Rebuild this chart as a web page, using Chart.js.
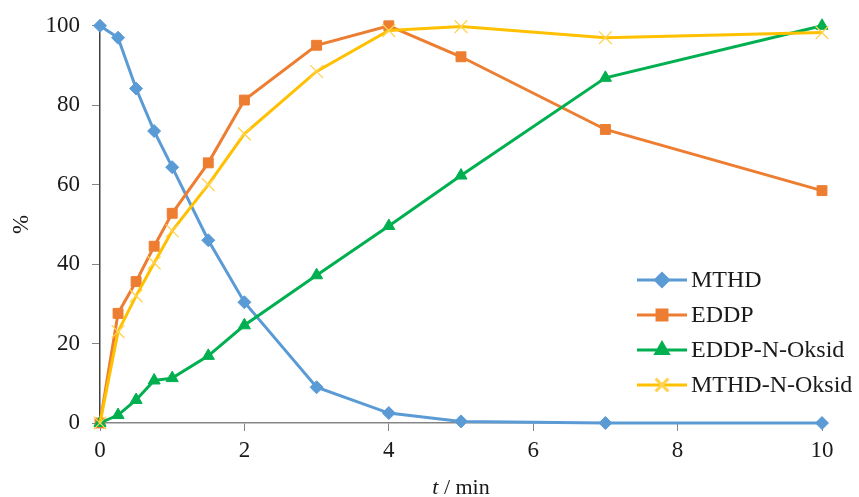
<!DOCTYPE html>
<html>
<head>
<meta charset="utf-8">
<script src="https://cdn.jsdelivr.net/npm/chart.js@4"></script>
<style>
  html, body { margin: 0; padding: 0; background: #fff; }
  #wrap { width: 859px; height: 497px; position: relative; }
</style>
</head>
<body>
<div id="wrap"><canvas id="myChart"></canvas></div>
<script>
// datos
const tiempos = [0, 0.25, 0.5, 0.75, 1, 1.5, 2, 3, 4, 5, 7, 10];
const mthd = [100, 97, 84.2, 73.5, 64.4, 46, 30.4, 9, 2.5, 0.4, 0, 0];
const eddp = [0, 27.6, 35.6, 44.5, 52.8, 65.5, 81.3, 95.1, 100, 92.2, 73.9, 58.5];
const eddpOksid = [0, 2, 5.8, 10.7, 11.3, 16.9, 24.6, 37.2, 49.6, 62.3, 86.9, 100];
const mthdOksid = [0, 23, 32, 40.3, 48.4, 60, 72.8, 88.5, 98.8, 99.8, 97, 98.3];
const xTicks = [0, 2, 4, 6, 8, 10];
const yTicks = [0, 20, 40, 60, 80, 100];

const serif = '"Liberation Serif", "Times New Roman", serif';
const textColor = '#1a1a1a';

function toXY(values) {
    return tiempos.map((t, i) => ({ x: t, y: values[i] }));
}

const series = [
    { label: 'MTHD', data: mthd, color: '#5B9BD5', marker: '#5B9BD5', style: 'rectRot', radius: 6.5, order: 3 },
    { label: 'EDDP', data: eddp, color: '#ED7D31', marker: '#ED7D31', style: 'rect', radius: 7, order: 2 },
    { label: 'EDDP-N-Oksid', data: eddpOksid, color: '#00B050', marker: '#00B050', style: 'triangle', radius: 7, order: 1 },
    { label: 'MTHD-N-Oksid', data: mthdOksid, color: '#FFC000', marker: '#FFD34F', style: 'crossRot', radius: 9, order: 0 }
];

// leyenda dentro del área del gráfico y título del eje x con "t" en cursiva
const extras = {
    id: 'extras',
    afterDraw(chart) {
        const ctx = chart.ctx;
        const x0 = 637, y0 = 280, step = 35;
        ctx.save();
        series.forEach((s, i) => {
            const y = y0 + i * step;
            ctx.strokeStyle = s.color;
            ctx.lineWidth = 3;
            ctx.beginPath();
            ctx.moveTo(x0, y);
            ctx.lineTo(x0 + 50, y);
            ctx.stroke();
            ctx.fillStyle = s.marker;
            ctx.strokeStyle = s.marker;
            Chart.helpers.drawPoint(ctx, {
                pointStyle: s.style,
                radius: s.radius,
                rotation: 0,
                borderWidth: s.style === 'crossRot' ? 1.3 : 1
            }, x0 + 25, y);
            ctx.font = '24px ' + serif;
            ctx.fillStyle = textColor;
            ctx.textBaseline = 'middle';
            ctx.textAlign = 'left';
            ctx.fillText(s.label, x0 + 54, y + 1);
        });

        // título del eje x
        const xs = chart.scales.x;
        const cx = (xs.left + xs.right) / 2;
        const ty = 488;
        ctx.textBaseline = 'middle';
        ctx.fillStyle = textColor;
        ctx.font = 'italic 22px ' + serif;
        const tW = ctx.measureText('t').width;
        ctx.font = '22px ' + serif;
        const restW = ctx.measureText(' / min').width;
        const start = cx - (tW + restW) / 2;
        ctx.font = 'italic 22px ' + serif;
        ctx.fillText('t', start, ty);
        ctx.font = '22px ' + serif;
        ctx.fillText(' / min', start + tW, ty);
        ctx.restore();
    }
};

const ctx = document.getElementById('myChart').getContext('2d');
const chart = new Chart(ctx, {
    type: 'line',
    data: {
        datasets: series.map(s => ({
            label: s.label,
            data: toXY(s.data),
            borderColor: s.color,
            backgroundColor: s.marker,
            pointBackgroundColor: s.marker,
            pointBorderColor: s.marker,
            pointStyle: s.style,
            pointRadius: s.radius,
            pointBorderWidth: s.style === 'crossRot' ? 1.3 : 1,
            borderWidth: 3,
            fill: false,
            tension: 0,
            clip: false,
            order: s.order
        }))
    },
    options: {
        responsive: true,
        maintainAspectRatio: false,
        animation: false,
        devicePixelRatio: 1,
        layout: { padding: { top: 24, right: 37, left: 0, bottom: 0 } },
        plugins: {
            legend: { display: false },
            tooltip: { enabled: false }
        },
        scales: {
            x: {
                type: 'linear',
                min: 0,
                max: 10,
                afterBuildTicks: axis => { axis.ticks = xTicks.map(v => ({ value: v })); },
                afterFit: axis => { axis.height = 74; },
                border: { display: true, color: '#868686', width: 1.5 },
                grid: { display: true, drawOnChartArea: false, drawTicks: true, tickLength: 8, color: '#868686' },
                ticks: { color: textColor, font: { family: serif, size: 23 }, padding: 6, maxRotation: 0 },
                title: { display: false }
            },
            y: {
                type: 'linear',
                min: 0,
                max: 100,
                afterBuildTicks: axis => { axis.ticks = yTicks.map(v => ({ value: v })); },
                afterFit: axis => { axis.width = 100; },
                border: { display: true, color: '#404040', width: 1.5 },
                grid: { display: true, drawOnChartArea: false, drawTicks: true, tickLength: 8, color: '#868686' },
                ticks: { color: textColor, font: { family: serif, size: 23 }, padding: 12 },
                title: {
                    display: true,
                    text: '%',
                    color: textColor,
                    font: { family: serif, size: 23 },
                    padding: { top: 8, bottom: 0 }
                }
            }
        }
    },
    plugins: [extras]
});
</script>
</body>
</html>
